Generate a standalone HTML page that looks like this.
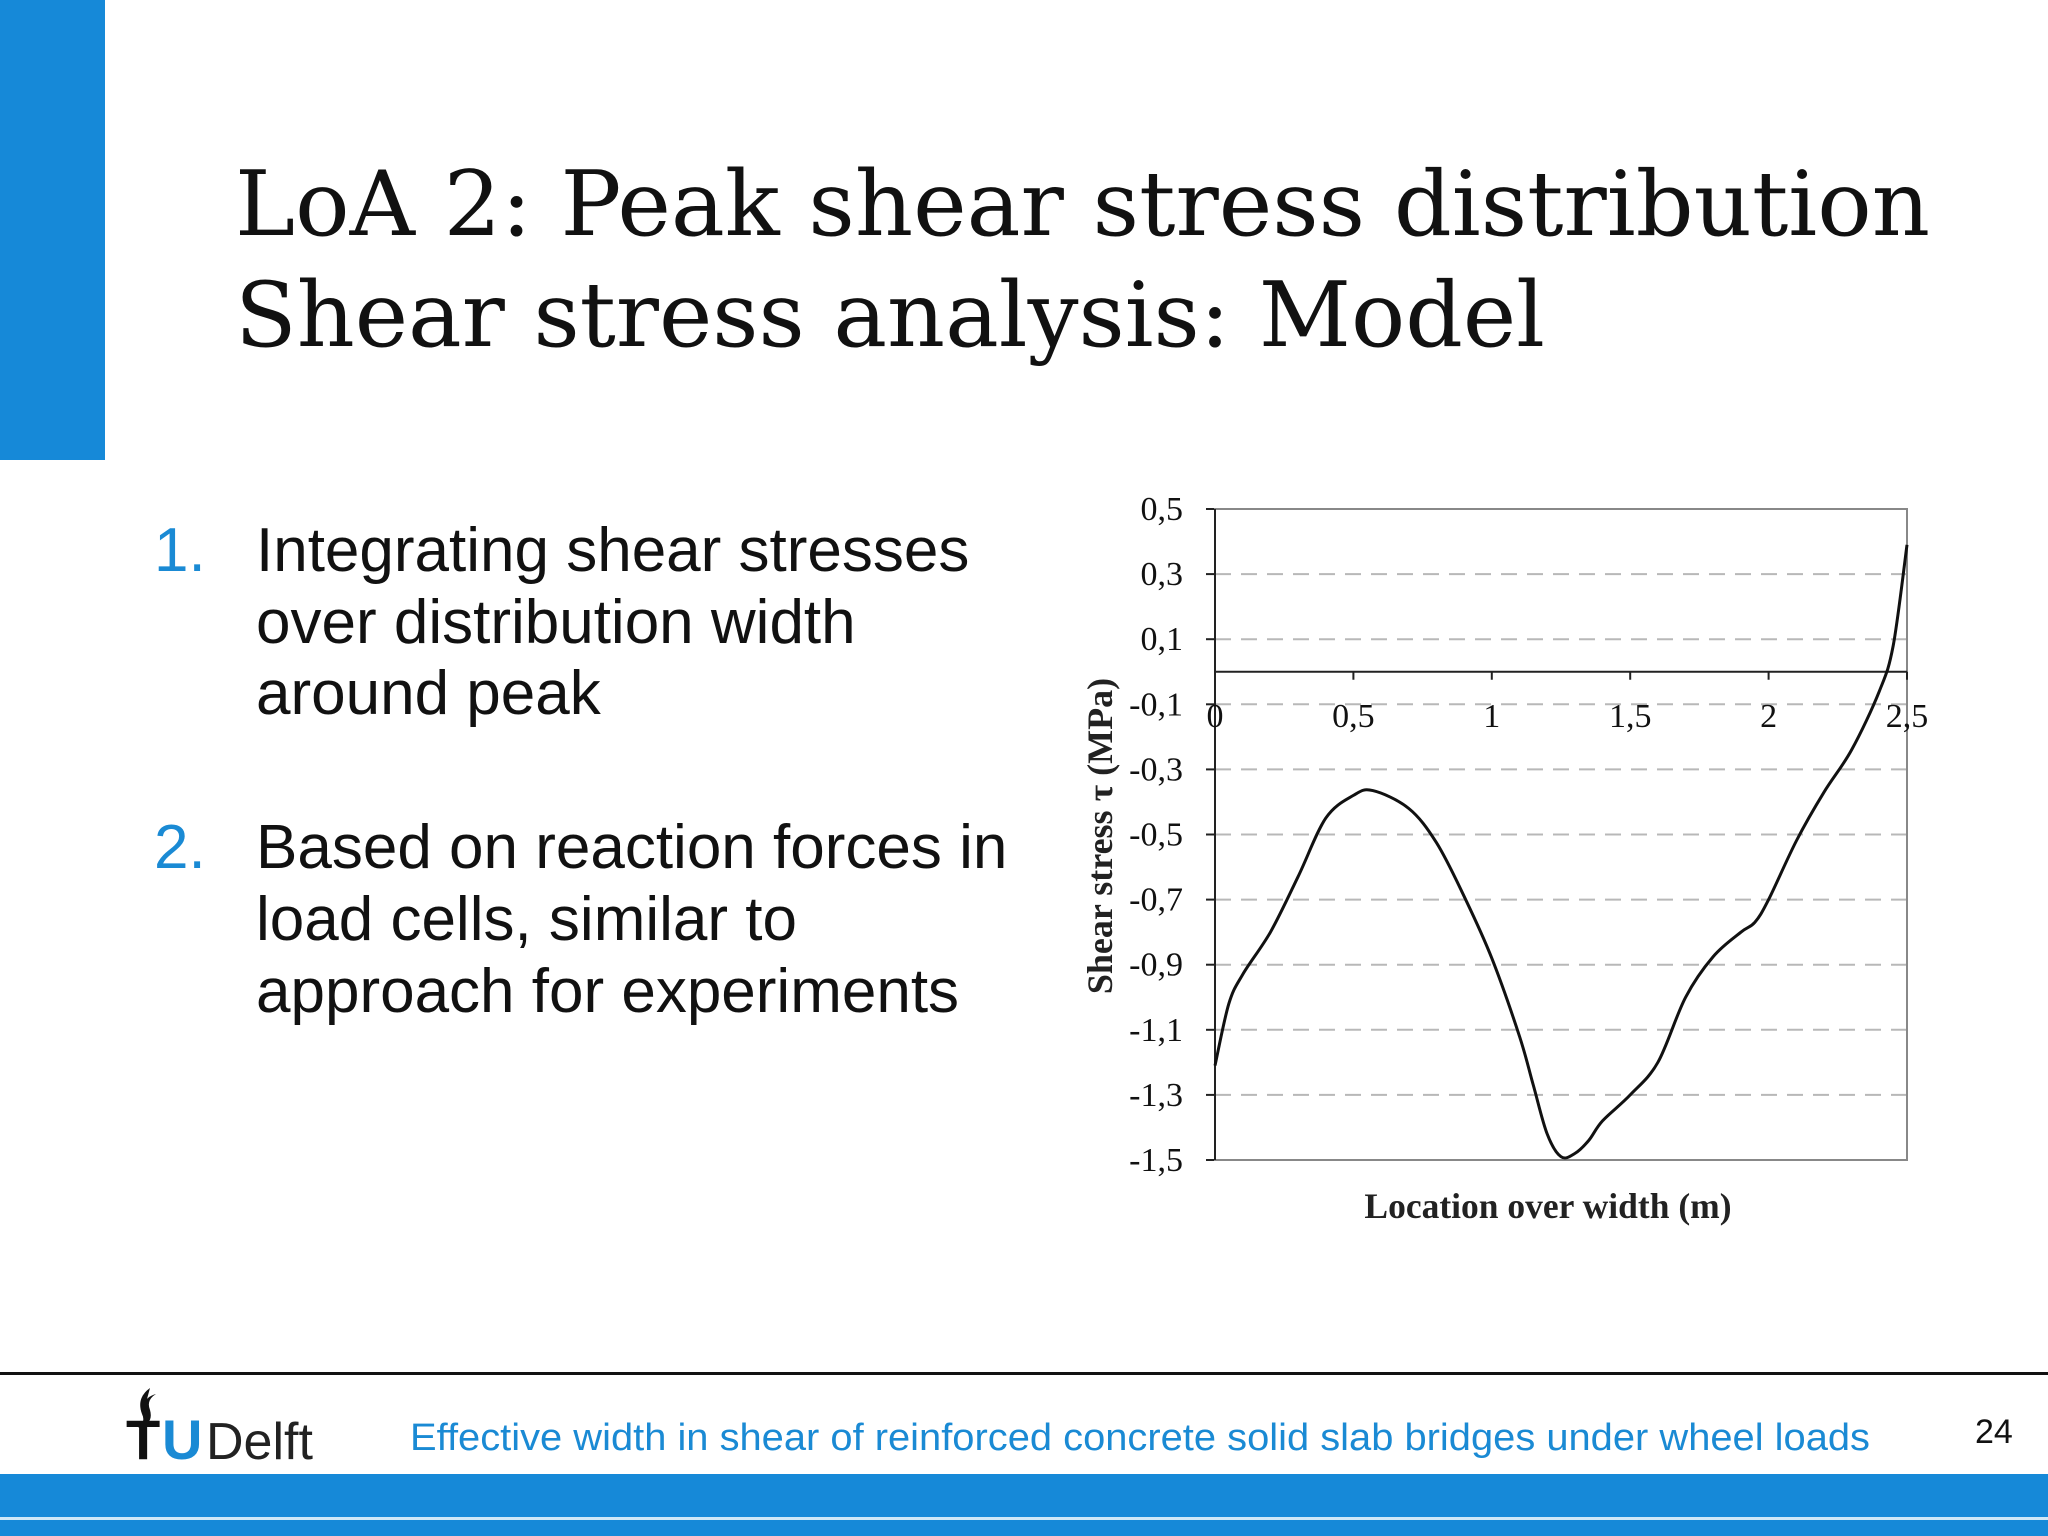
<!DOCTYPE html>
<html><head><meta charset="utf-8"><style>
body{margin:0;width:2048px;height:1536px;overflow:hidden;background:#fff;font-family:"Liberation Sans",sans-serif}
svg{display:block}
</style></head><body>
<svg width="2048" height="1536" viewBox="0 0 2048 1536">
<rect x="0" y="0" width="105" height="460" fill="#1689d8"/>
<g font-family="DejaVu Serif, serif" font-size="90" fill="#111">
<text x="235" y="235" textLength="1695" lengthAdjust="spacingAndGlyphs">LoA 2: Peak shear stress distribution</text>
<text x="235" y="346" textLength="1310" lengthAdjust="spacingAndGlyphs">Shear stress analysis: Model</text>
</g>
<g font-size="62" fill="#111">
<text x="154" y="571" fill="#1a8ad4">1.</text>
<text x="256" y="571">Integrating shear stresses</text>
<text x="256" y="643">over distribution width</text>
<text x="256" y="714">around peak</text>
<text x="154" y="868" fill="#1a8ad4">2.</text>
<text x="256" y="868">Based on reaction forces in</text>
<text x="256" y="940">load cells, similar to</text>
<text x="256" y="1012">approach for experiments</text>
</g>
<g id="chart"></g>
<rect x="0" y="1372" width="2048" height="3" fill="#111"/>
<g>
<path d="M150 1388 q-14 10 -8 26 q4 8 -4 14 q16 -4 12 -18 q-4 -10 6 -16 q-14 4 -12 16 z" fill="#111"/>
<text x="126" y="1459" font-size="56" font-weight="bold" fill="#111">T</text>
<text x="162" y="1459" font-size="56" font-weight="bold" fill="#1a8ad4">U</text>
<text x="206" y="1459" font-size="52" fill="#222">Delft</text>
</g>
<text x="410" y="1450" font-size="38" fill="#1a8ad4" textLength="1460" lengthAdjust="spacingAndGlyphs">Effective width in shear of reinforced concrete solid slab bridges under wheel loads</text>
<text x="1975" y="1443" font-size="34" fill="#111">24</text>
<rect x="0" y="1474" width="2048" height="62" fill="#1689d8"/>
<rect x="0" y="1517" width="2048" height="3" fill="#cfe8f8"/>
</svg>
<script>
const xValues=[0,0.05,0.1,0.2,0.3,0.4,0.5,0.57,0.7,0.8,0.9,1.0,1.1,1.15,1.2,1.25,1.3,1.35,1.4,1.5,1.6,1.7,1.8,1.9,1.95,2.0,2.1,2.2,2.3,2.4,2.45,2.5];
const yValues=[-1.21,-1.02,-0.93,-0.80,-0.63,-0.45,-0.38,-0.365,-0.42,-0.525,-0.69,-0.88,-1.12,-1.27,-1.42,-1.49,-1.48,-1.44,-1.38,-1.30,-1.20,-1.0,-0.875,-0.80,-0.77,-0.70,-0.52,-0.37,-0.24,-0.06,0.08,0.39];
const yTicks=[0.5,0.3,0.1,-0.1,-0.3,-0.5,-0.7,-0.9,-1.1,-1.3,-1.5];
const xTicks=[0,0.5,1,1.5,2,2.5];
const NS="http://www.w3.org/2000/svg";
const L=1215,R=1907,T=509,B=1160;
const sx=v=>L+(v-0)/(2.5)*(R-L);
const sy=v=>T+(0.5-v)/2*(B-T);
const g=document.getElementById('chart');
function mk(tag,attrs,parent){const e=document.createElementNS(NS,tag);for(const k in attrs)e.setAttribute(k,attrs[k]);(parent||g).appendChild(e);return e;}
const fmt=v=>String(v).replace('.',',');
yTicks.forEach(v=>{
  const y=sy(v);
  if(v<0.5&&v>-1.5){const l=mk('line',{x1:L,x2:R,y1:y,y2:y,stroke:'#b8b8b8','stroke-width':2,'stroke-dasharray':'16 10'});
  
  }
  const tk=mk('line',{x1:L-9,x2:L,y1:y,y2:y,stroke:'#222','stroke-width':2});
  
  
  const t=mk('text',{x:L-32,y:y+11,'text-anchor':'end','font-family':'Liberation Serif, serif','font-size':34,fill:'#111'});
  t.textContent=fmt(v);
  
  
});
const fr=mk('rect',{x:L,y:T,width:R-L,height:B-T,fill:'none',stroke:'#888','stroke-width':2});


const ya=mk('line',{x1:L,x2:L,y1:T,y2:B,stroke:'#222','stroke-width':2});


const z=sy(0);
const xa=mk('line',{x1:L,x2:R,y1:z,y2:z,stroke:'#222','stroke-width':2});


xTicks.forEach(v=>{
  const x=sx(v);
  const tk=mk('line',{x1:x,x2:x,y1:z,y2:z+8,stroke:'#222','stroke-width':2});
  
  
  const t=mk('text',{x:x,y:z+55,'text-anchor':'middle','font-family':'Liberation Serif, serif','font-size':34,fill:'#111'});
  t.textContent=fmt(v);
  
  
});
const pts=xValues.map((v,i)=>[sx(v),sy(yValues[i])]);
let d='M'+pts[0][0].toFixed(1)+' '+pts[0][1].toFixed(1);
for(let i=0;i<pts.length-1;i++){
  const p0=pts[Math.max(0,i-1)],p1=pts[i],p2=pts[i+1],p3=pts[Math.min(pts.length-1,i+2)];
  const c1=[p1[0]+(p2[0]-p0[0])/6,p1[1]+(p2[1]-p0[1])/6];
  const c2=[p2[0]-(p3[0]-p1[0])/6,p2[1]-(p3[1]-p1[1])/6];
  d+=' C'+c1[0].toFixed(1)+' '+c1[1].toFixed(1)+' '+c2[0].toFixed(1)+' '+c2[1].toFixed(1)+' '+p2[0].toFixed(1)+' '+p2[1].toFixed(1);
}
const p=mk('path',{d:d,fill:'none',stroke:'#111','stroke-width':3,'stroke-linejoin':'round'});


const xt=mk('text',{x:1548,y:1218,'text-anchor':'middle','font-family':'Liberation Serif, serif','font-size':35.5,'font-weight':'bold',fill:'#222'});
xt.textContent='Location over width (m)';


const yt=mk('text',{x:0,y:0,'text-anchor':'middle','font-family':'Liberation Serif, serif','font-size':36,'font-weight':'bold',fill:'#222',transform:'translate(1112,836) rotate(-90)'});
yt.textContent='Shear stress τ (MPa)';


</script>
</body></html>
